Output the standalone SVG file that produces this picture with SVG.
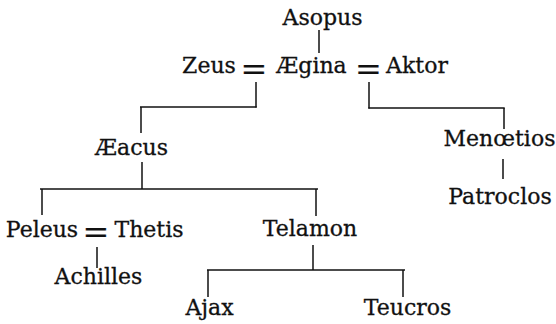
<svg xmlns="http://www.w3.org/2000/svg" width="556" height="324" viewBox="0 0 556 324">
<style>
text{font-family:"DejaVu Serif",serif;font-size:22px;fill:#111;stroke:#111;stroke-width:0.3px;text-anchor:middle;}
.eq{font-size:32px;stroke-width:0.2px;}
.c line{stroke:#111;stroke-width:1.5;}
</style>
<rect width="556" height="324" fill="#fff"/>
<g class="c" id="connectors">
<line x1="319" y1="30" x2="319" y2="53"/>
<line x1="256" y1="82" x2="256" y2="107.5"/>
<line x1="140" y1="107" x2="256.7" y2="107"/>
<line x1="141" y1="107" x2="141" y2="133"/>
<line x1="369" y1="82" x2="369" y2="108.5"/>
<line x1="368.3" y1="108" x2="504.7" y2="108"/>
<line x1="504" y1="108" x2="504" y2="129"/>
<line x1="503" y1="159" x2="503" y2="179"/>
<line x1="142" y1="162" x2="142" y2="189"/>
<line x1="40" y1="189" x2="318" y2="189"/>
<line x1="42" y1="189" x2="42" y2="215"/>
<line x1="316" y1="189" x2="316" y2="216"/>
<line x1="97" y1="247" x2="97" y2="268"/>
<line x1="313" y1="245" x2="313" y2="270"/>
<line x1="207" y1="270" x2="405" y2="270"/>
<line x1="208" y1="270" x2="208" y2="297"/>
<line x1="403" y1="270" x2="403" y2="297"/>
</g>
<g font-family="DejaVu Serif, serif">
<g id="asopus"><text x="322.5" y="25">Asopus</text></g>
<g id="zeus"><text x="209" y="73">Zeus</text></g>
<g id="eq1"><text class="eq" x="254" y="80">=</text></g>
<g id="aegina"><text x="311.5" y="73">Ægina</text></g>
<g id="eq2"><text class="eq" x="368.5" y="80">=</text></g>
<g id="aktor"><text x="417" y="73">Aktor</text></g>
<g id="aeacus"><text x="131.5" y="155">Æacus</text></g>
<g id="menoetios"><text x="499.5" y="146">Menœtios</text></g>
<g id="patroclos"><text x="500" y="204">Patroclos</text></g>
<g id="peleus"><text x="42" y="237">Peleus</text></g>
<g id="eq3"><text class="eq" x="96" y="242.5">=</text></g>
<g id="thetis"><text x="149" y="237">Thetis</text></g>
<g id="telamon"><text x="310" y="236">Telamon</text></g>
<g id="achilles"><text x="98.5" y="284">Achilles</text></g>
<g id="ajax"><text x="209.5" y="315">Ajax</text></g>
<g id="teucros"><text x="407.5" y="315">Teucros</text></g>
</g>
</svg>
